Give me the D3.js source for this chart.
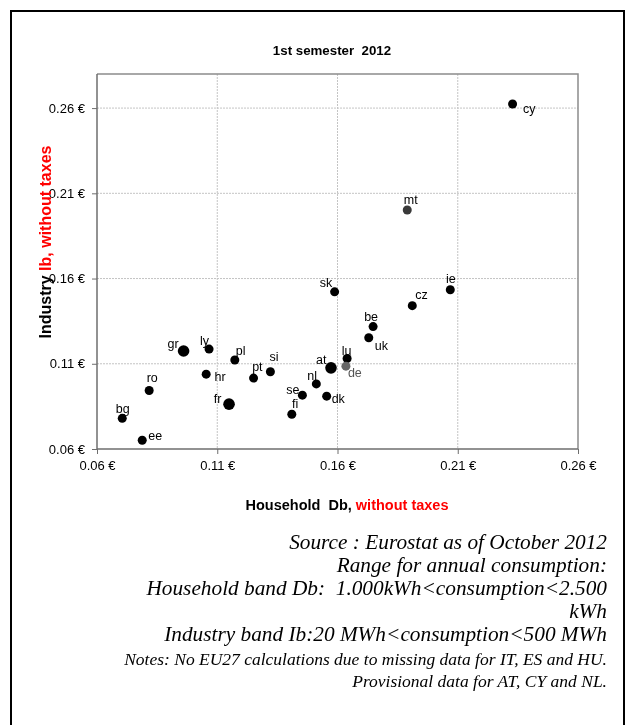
<!DOCTYPE html>
<html>
<head>
<meta charset="utf-8">
<script src="https://cdn.jsdelivr.net/npm/d3@7"></script>
<style>
  html, body { margin: 0; padding: 0; background: #fff; }
  svg { display: block; will-change: transform; }
</style>
</head>
<body>
<svg id="chart" width="627" height="725"></svg>
<script>
// Electricity prices, 1st semester 2012 (EUR/kWh, without taxes)
const countries = ["cy","mt","ie","cz","be","uk","sk","lu","de","at","nl","dk","se","fi","si","pt","pl","fr","ly","hr","gr","ro","bg","ee"];
const householdDb = [0.2328,0.1890,0.2069,0.1911,0.1748,0.1730,0.1588,0.1640,0.1635,0.1573,0.1512,0.1555,0.1454,0.1410,0.1321,0.1251,0.1173,0.1149,0.1066,0.1054,0.0960,0.0817,0.0705,0.0788];
const industryIb  = [0.2624,0.2002,0.1534,0.1441,0.1318,0.1253,0.1522,0.1131,0.1086,0.1076,0.0982,0.0910,0.0916,0.0804,0.1053,0.1016,0.1122,0.0863,0.1186,0.1039,0.1175,0.0943,0.0780,0.0651];
const tickValues = [0.06, 0.11, 0.16, 0.21, 0.26];
const tickLabels = ["0.06 €", "0.11 €", "0.16 €", "0.21 €", "0.26 €"];
// marker emphasis and label placement per country
const bigMarkers = ["gr", "fr", "at"];
const greyMarkers = { mt: "#3a3a3a", de: "#666666" };
const labelAnchor = {
  cy: ["start", 10.5, 9], mt: ["middle", 3.5, -6.5], ie: ["middle", 0.6, -7], cz: ["start", 3, -7],
  be: ["middle", -2, -6], uk: ["start", 6, 12.5], sk: ["end", -2.3, -5], lu: ["middle", -0.6, -3.5],
  de: ["start", 2, 11], at: ["end", -4.6, -3.7], nl: ["end", 0.6, -4], dk: ["start", 5, 7],
  se: ["end", -3, -1.5], fi: ["middle", 3.3, -6.5], si: ["middle", 3.6, -10.3], pt: ["start", -1.4, -6.6],
  pl: ["start", 1, -5], fr: ["end", -7.6, -1], ly: ["end", 0, -4.3], hr: ["start", 8.4, 6.4],
  gr: ["end", -5, -2.5], ro: ["middle", 3, -8.4], bg: ["middle", 0.4, -5.2], ee: ["start", 6, 0]
};

const svg = d3.select("#chart");

// outer frame
svg.append("rect")
  .attr("x", 11).attr("y", 11).attr("width", 613).attr("height", 730)
  .attr("fill", "none").attr("stroke", "#000").attr("stroke-width", 2);

const plotLeft = 97, plotRight = 578, plotTop = 74, plotBottom = 449;
const x = d3.scaleLinear().domain([0.06, 0.26]).range([plotLeft, plotRight]);
const y = d3.scaleLinear().domain([0.06, 0.28]).range([plotBottom, plotTop]);

// grid
const grid = svg.append("g");
grid.selectAll("line.v").data(tickValues.slice(1, -1)).join("line")
  .attr("x1", d => x(d)).attr("x2", d => x(d)).attr("y1", plotTop).attr("y2", plotBottom)
  .attr("stroke", "#c4c4c4").attr("stroke-width", 1).attr("stroke-dasharray", "2,1");
grid.selectAll("line.h").data(tickValues.slice(1)).join("line")
  .attr("x1", plotLeft).attr("x2", plotRight).attr("y1", d => y(d)).attr("y2", d => y(d))
  .attr("stroke", "#c4c4c4").attr("stroke-width", 1).attr("stroke-dasharray", "2,1");

// plot border (top / right)
svg.append("path")
  .attr("d", `M${plotLeft},${plotTop}H${plotRight}V${plotBottom}`)
  .attr("fill", "none").attr("stroke", "#8c8c8c").attr("stroke-width", 1.5);

// axes
const xAxis = d3.axisBottom(x).tickValues(tickValues).tickSize(5).tickPadding(7)
  .tickFormat((d, i) => tickLabels[i]);
const yAxis = d3.axisLeft(y).tickValues(tickValues).tickSize(5).tickPadding(7)
  .tickFormat((d, i) => tickLabels[i]);

const gx = svg.append("g").attr("transform", `translate(0,${plotBottom})`).call(xAxis);
const gy = svg.append("g").attr("transform", `translate(${plotLeft},0)`).call(yAxis);
[gx, gy].forEach(g => {
  g.select(".domain").attr("stroke", "#6e6e6e").attr("stroke-width", 1.5);
  g.selectAll(".tick line").attr("stroke", "#6e6e6e").attr("stroke-width", 1);
  g.selectAll(".tick text").attr("fill", "#000")
    .style("font-family", "'Liberation Sans', Arial, sans-serif").style("font-size", "13px");
});
gy.select(".domain").attr("d", `M0,${plotBottom}V${plotTop}`);
gx.select(".domain").attr("d", `M${plotLeft},0H${plotRight}`);

// points
const rows = countries.map((c, i) => ({ c, hx: householdDb[i], iy: industryIb[i] }));
svg.append("g").selectAll("circle").data(rows).join("circle")
  .attr("cx", d => x(d.hx)).attr("cy", d => y(d.iy))
  .attr("r", d => bigMarkers.includes(d.c) ? 5.8 : 4.5)
  .attr("fill", d => greyMarkers[d.c] || "#000");

// point labels
svg.append("g").selectAll("text").data(rows).join("text")
  .attr("x", d => x(d.hx) + labelAnchor[d.c][1])
  .attr("y", d => y(d.iy) + labelAnchor[d.c][2])
  .attr("text-anchor", d => labelAnchor[d.c][0])
  .attr("fill", d => d.c === "de" ? "#555" : "#000")
  .style("font-family", "'Liberation Sans', Arial, sans-serif").style("font-size", "12.5px")
  .text(d => d.c);

// title
svg.append("text").attr("x", 332).attr("y", 55).attr("text-anchor", "middle")
  .style("font-family", "'Liberation Sans', Arial, sans-serif").style("font-size", "13.3px")
  .style("font-weight", "bold").attr("fill", "#000").attr("xml:space", "preserve")
  .text("1st semester  2012");

// x axis title
const xt = svg.append("text").attr("x", 347).attr("y", 510).attr("text-anchor", "middle")
  .style("font-family", "'Liberation Sans', Arial, sans-serif").style("font-size", "14.5px")
  .style("font-weight", "bold").attr("xml:space", "preserve");
xt.append("tspan").attr("fill", "#000").text("Household  Db, ");
xt.append("tspan").attr("fill", "#ff0000").text("without taxes");

// y axis title
const yt = svg.append("text").attr("transform", "translate(51,242) rotate(-90)")
  .attr("text-anchor", "middle")
  .style("font-family", "'Liberation Sans', Arial, sans-serif").style("font-size", "16px")
  .style("font-weight", "bold");
yt.append("tspan").attr("fill", "#000").text("Industry ");
yt.append("tspan").attr("fill", "#ff0000").text("Ib, without taxes");

// source and notes
const notes = [
  ["Source : Eurostat as of October 2012", 549, 21.3],
  ["Range for annual consumption:", 572, 21.3],
  ["Household band Db:  1.000kWh<consumption<2.500", 595, 21.3],
  ["kWh", 618, 21.3],
  ["Industry band Ib:20 MWh<consumption<500 MWh", 641, 21.3],
  ["Notes: No EU27 calculations due to missing data for IT, ES and HU.", 665, 17.5],
  ["Provisional data for AT, CY and NL.", 687, 17.5]
];
svg.append("g").selectAll("text").data(notes).join("text")
  .attr("x", 607).attr("y", d => d[1]).attr("text-anchor", "end")
  .attr("xml:space", "preserve")
  .style("font-family", "'Liberation Serif', 'Times New Roman', serif")
  .style("font-style", "italic").style("font-size", d => d[2] + "px")
  .attr("fill", "#000")
  .text(d => d[0]);
</script>
</body>
</html>
